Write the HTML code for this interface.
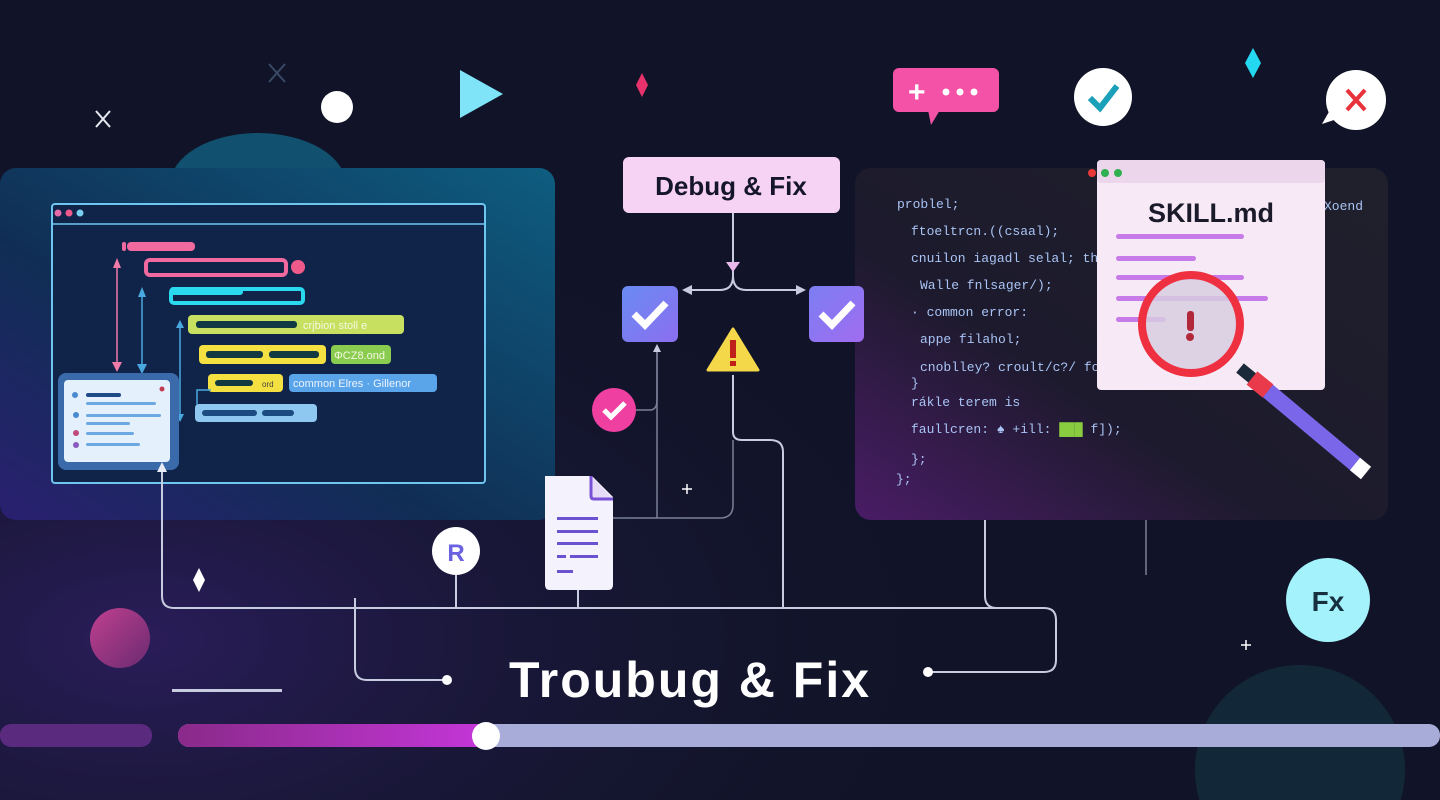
<!DOCTYPE html>
<html><head><meta charset="utf-8"><style>
html,body{margin:0;padding:0;background:#111428;width:1440px;height:800px;overflow:hidden}
svg{display:block}
text{font-family:"Liberation Sans",sans-serif}
.code text{font-family:"Liberation Mono",monospace;font-size:13px;fill:#a9c4f5}
</style></head><body>
<svg width="1440" height="800" viewBox="0 0 1440 800" xmlns="http://www.w3.org/2000/svg">
<defs>
<radialGradient id="bgL" cx="0.1" cy="0.8" r="0.6"><stop offset="0" stop-color="#2a1d5a"/><stop offset="1" stop-color="#111428" stop-opacity="0"/></radialGradient>
<linearGradient id="lp" x1="1" y1="0" x2="0" y2="1"><stop offset="0" stop-color="#0e5d80"/><stop offset="0.6" stop-color="#102e55"/><stop offset="1" stop-color="#2a2070"/></linearGradient>
<linearGradient id="rp" x1="1" y1="0" x2="0" y2="1"><stop offset="0" stop-color="#20202c"/><stop offset="0.6" stop-color="#1c1a2c"/><stop offset="1" stop-color="#4a1c66"/></linearGradient>
<linearGradient id="cb1" x1="0" y1="0" x2="1" y2="1"><stop offset="0" stop-color="#6a8bf2"/><stop offset="1" stop-color="#8b6ef0"/></linearGradient>
<linearGradient id="cb2" x1="0" y1="0" x2="1" y2="1"><stop offset="0" stop-color="#7c7ef2"/><stop offset="1" stop-color="#a06cf0"/></linearGradient>
<linearGradient id="prog" x1="0" x2="1"><stop offset="0" stop-color="#8a2a8a"/><stop offset="1" stop-color="#c436d8"/></linearGradient>
<linearGradient id="mag" x1="0" y1="0" x2="1" y2="1"><stop offset="0" stop-color="#c04090"/><stop offset="1" stop-color="#6a2a70"/></linearGradient>
</defs>
<rect width="1440" height="800" fill="#111428"/>
<rect width="1440" height="800" fill="url(#bgL)"/>
<circle cx="1300" cy="770" r="105" fill="#13303e" opacity="0.7"/>

<g stroke="#e8e8f0" stroke-width="2"><line x1="96" y1="111" x2="110" y2="127"/><line x1="110" y1="111" x2="96" y2="127"/></g>
<g stroke="#3a4a66" stroke-width="2"><line x1="269" y1="64" x2="285" y2="82"/><line x1="285" y1="64" x2="269" y2="82"/></g>
<circle cx="337" cy="107" r="16" fill="#fff"/>
<polygon points="460,70 460,118 503,94" fill="#7fe4f8"/>
<polygon points="642,73 648,85 642,97 636,85" fill="#e8326c"/>
<rect x="893" y="68" width="106" height="44" rx="6" fill="#f452a6"/>
<polygon points="928,110 940,110 931,125" fill="#f452a6"/>
<text x="908" y="102" fill="#fff" font-size="30" font-weight="bold">+</text>
<circle cx="946" cy="92" r="3.5" fill="#fff"/><circle cx="960" cy="92" r="3.5" fill="#fff"/><circle cx="974" cy="92" r="3.5" fill="#fff"/>
<circle cx="1103" cy="97" r="29" fill="#fff"/>
<polyline points="1090,98 1100,108 1117,86" fill="none" stroke="#1aa0b8" stroke-width="6"/>
<polygon points="1253,48 1261,63 1253,78 1245,63" fill="#23d8f0"/>
<circle cx="1356" cy="100" r="30" fill="#fff"/>
<polygon points="1330,110 1322,124 1340,118" fill="#fff"/>
<g stroke="#e8323c" stroke-width="4"><line x1="1347" y1="90" x2="1365" y2="110"/><line x1="1365" y1="90" x2="1347" y2="110"/></g>

<ellipse cx="258" cy="185" rx="88" ry="52" fill="#11506e"/>
<rect x="0" y="168" width="555" height="352" rx="16" fill="url(#lp)"/>
<rect x="52" y="204" width="433" height="279" rx="3" fill="#10244a" stroke="#6ec6ee" stroke-width="2"/>
<line x1="52" y1="224" x2="485" y2="224" stroke="#6ec6ee" stroke-width="1.5"/>
<circle cx="58" cy="213" r="3.5" fill="#e46aa8"/><circle cx="69" cy="213" r="3.5" fill="#f05a8a"/><circle cx="80" cy="213" r="3.5" fill="#7ad0f0"/>
<rect x="122" y="242" width="4" height="9" rx="2" fill="#f06aa0"/>
<rect x="127" y="242" width="68" height="9" rx="4" fill="#f06aa0"/>
<rect x="146" y="260" width="140" height="15" rx="4" fill="#10244a" stroke="#f06aa0" stroke-width="4"/>
<circle cx="298" cy="267" r="7" fill="#f05a8a"/>
<rect x="170" y="287" width="73" height="8" rx="3" fill="#2ad8f0"/>
<rect x="171" y="289" width="132" height="14" rx="3" fill="none" stroke="#2ad8f0" stroke-width="4"/>
<rect x="188" y="315" width="216" height="19" rx="4" fill="#c8e060"/>
<rect x="196" y="321" width="101" height="7" rx="3" fill="#0f3a44"/>
<text x="303" y="329" font-size="11" fill="#f4f8e0">crjbion stoll e</text>
<rect x="199" y="345" width="127" height="19" rx="4" fill="#f4e040"/>
<rect x="206" y="351" width="57" height="7" rx="3" fill="#123a40"/><rect x="269" y="351" width="50" height="7" rx="3" fill="#123a40"/>
<rect x="331" y="345" width="60" height="19" rx="4" fill="#8acc50"/>
<text x="334" y="359" font-size="11" fill="#f4f8e0">ΦCZ8.ond</text>
<rect x="208" y="374" width="75" height="18" rx="4" fill="#f4e040"/>
<rect x="215" y="380" width="38" height="6" rx="3" fill="#123a40"/>
<text x="262" y="387" font-size="8" fill="#444">ord</text>
<rect x="289" y="374" width="148" height="18" rx="4" fill="#5aa4ea"/>
<text x="293" y="387" font-size="11" fill="#eaf4ff">common Elres · Gillenor</text>
<rect x="195" y="404" width="122" height="18" rx="4" fill="#8ec8f0"/>
<rect x="202" y="410" width="55" height="6" rx="3" fill="#1a4a80"/><rect x="262" y="410" width="32" height="6" rx="3" fill="#1a4a80"/>
<g stroke-width="1.5" fill="none">
<line x1="117" y1="262" x2="117" y2="366" stroke="#f07aa8"/>
<line x1="142" y1="292" x2="142" y2="368" stroke="#4aa8e0"/>
<polyline points="180,325 180,420" stroke="#4aa8e0"/>
<polyline points="211,390 197,390 197,405" stroke="#4aa8e0"/>
</g>
<polygon points="113,268 117,258 121,268" fill="#f07aa8"/><polygon points="112,362 117,372 122,362" fill="#f07aa8"/>
<polygon points="138,297 142,287 146,297" fill="#4aa8e0"/><polygon points="137,364 142,374 147,364" fill="#4aa8e0"/>
<polygon points="176,328 180,320 184,328" fill="#4aa8e0"/><polygon points="176,414 180,422 184,414" fill="#4aa8e0"/>
<rect x="58" y="373" width="121" height="97" rx="8" fill="#3a6aaa"/>
<rect x="64" y="380" width="106" height="82" rx="4" fill="#e4f0fb"/>
<rect x="86" y="393" width="35" height="4" rx="2" fill="#1e4a88"/>
<rect x="86" y="402" width="70" height="3" rx="1.5" fill="#6ea8e0"/>
<rect x="86" y="414" width="75" height="3" rx="1.5" fill="#6ea8e0"/>
<rect x="86" y="422" width="44" height="3" rx="1.5" fill="#6ea8e0"/>
<rect x="86" y="432" width="48" height="3" rx="1.5" fill="#6ea8e0"/>
<rect x="86" y="443" width="54" height="3" rx="1.5" fill="#6ea8e0"/>
<circle cx="75" cy="395" r="3" fill="#4a8ad0"/><circle cx="76" cy="415" r="3" fill="#4a8ad0"/><circle cx="76" cy="433" r="3" fill="#c04a7a"/><circle cx="76" cy="445" r="3" fill="#8a5ac0"/><circle cx="162" cy="389" r="2.5" fill="#c03a50"/>

<rect x="855" y="168" width="533" height="352" rx="16" fill="url(#rp)"/>
<g class="code">
<text x="897" y="208">problel;</text>
<text x="911" y="235">ftoeltrcn.((csaal);</text>
<text x="911" y="262">cnuilon iagadl selal; the</text>
<text x="920" y="289">Walle fnlsager/);</text>
<text x="911" y="316">· common error:</text>
<text x="920" y="343">appe filahol;</text>
<text x="920" y="371">cnoblley? croult/c?/ fon</text>
<text x="911" y="387">}</text>
<text x="911" y="406">rákle terem is</text>
<text x="911" y="433">faullcren: ♠ +ill: <tspan fill="#8acc40">███</tspan> f]);</text>
<text x="911" y="463">};</text>
<text x="896" y="483">};</text>
<text x="1324" y="210">Xoend</text>
</g>
<rect x="1097" y="160" width="228" height="230" rx="4" fill="#f7e9f6"/>
<rect x="1097" y="160" width="228" height="23" rx="4" fill="#ecd6ec"/>
<circle cx="1092" cy="173" r="4" fill="#e83a3a"/><circle cx="1105" cy="173" r="4" fill="#30b050"/><circle cx="1118" cy="173" r="4" fill="#30b050"/>
<text x="1211" y="222" text-anchor="middle" font-size="27" font-weight="bold" fill="#1a1a2a">SKILL.md</text>
<g fill="#c77be8"><rect x="1116" y="234" width="128" height="5" rx="2.5"/><rect x="1116" y="256" width="80" height="5" rx="2.5"/><rect x="1116" y="275" width="128" height="5" rx="2.5"/><rect x="1116" y="296" width="152" height="5" rx="2.5"/><rect x="1116" y="317" width="50" height="5" rx="2.5"/></g>
<line x1="1240" y1="368" x2="1262" y2="386" stroke="#1a2a3a" stroke-width="12"/>
<line x1="1262" y1="386" x2="1360" y2="468" stroke="#7a66e8" stroke-width="16"/>
<line x1="1252" y1="378" x2="1268" y2="391" stroke="#e83a4a" stroke-width="17"/>
<line x1="1355" y1="464" x2="1366" y2="473" stroke="#fff" stroke-width="16"/>
<circle cx="1191" cy="324" r="49" fill="#d8cce0" fill-opacity="0.85" stroke="#ee3040" stroke-width="8"/>
<rect x="1187" y="311" width="7" height="20" rx="3" fill="#b0283a"/><circle cx="1190" cy="337" r="4" fill="#b0283a"/>

<g fill="none" stroke="#c8cce0" stroke-width="2">
<path d="M733 213 V276 Q733 290 720 290 H690"/>
<path d="M733 276 Q733 290 746 290 H798"/>
<path d="M733 375 V432 Q733 440 742 440 H770 Q783 440 783 452 V608"/>
<path d="M162 470 V596 Q162 608 174 608 H1044 Q1056 608 1056 620 V660 Q1056 672 1044 672 H930"/>
<path d="M355 598 V668 Q355 680 367 680 H445"/>
<line x1="456" y1="575" x2="456" y2="608"/>
<line x1="578" y1="590" x2="578" y2="608"/>
<path d="M985 520 V596 Q985 608 997 608"/>
</g>
<g fill="none" stroke="#7a8098" stroke-width="1.5">
<path d="M634 410 H650 Q657 410 657 400 V348"/>
<path d="M657 348 V518"/>
<path d="M613 518 H720 Q733 518 733 505 V440"/>
<line x1="1146" y1="520" x2="1146" y2="575"/>
</g>
<polygon points="726,262 733,272 740,262" fill="#e8b8ea"/>
<polygon points="692,285 682,290 692,295" fill="#c8cce0"/>
<polygon points="796,285 806,290 796,295" fill="#c8cce0"/>
<polygon points="653,352 657,344 661,352" fill="#c8cce0"/>
<circle cx="447" cy="680" r="5" fill="#fff"/><circle cx="928" cy="672" r="5" fill="#fff"/>
<polygon points="162,462 157,472 167,472" fill="#e8ecf4"/>

<rect x="623" y="157" width="217" height="56" rx="6" fill="#f6d2f4"/>
<text x="731" y="195" text-anchor="middle" font-size="26" font-weight="bold" fill="#16162a">Debug &amp; Fix</text>
<rect x="622" y="286" width="56" height="56" rx="6" fill="url(#cb1)"/>
<rect x="809" y="286" width="55" height="56" rx="6" fill="url(#cb2)"/>
<polyline points="634,314 645,325 666,303" fill="none" stroke="#fff" stroke-width="7"/>
<polyline points="821,314 832,325 853,303" fill="none" stroke="#fff" stroke-width="7"/>
<polygon points="733,329 758,370 708,370" fill="#f4d84a" stroke="#f4d84a" stroke-width="3" stroke-linejoin="round"/>
<rect x="730" y="340" width="6" height="18" fill="#c0201a"/><rect x="730" y="361" width="6" height="5" fill="#c0201a"/>
<circle cx="614" cy="410" r="22" fill="#ef3fa0"/>
<polyline points="604,410 611,417 625,403" fill="none" stroke="#fff" stroke-width="5"/>

<path d="M545 476 H592 L613 497 V585 Q613 590 608 590 H550 Q545 590 545 585 Z" fill="#f4f2fc"/>
<path d="M591 476 V496 Q591 499 594 499 H613" fill="#e6dcf8" stroke="#7a52d8" stroke-width="3"/>
<g fill="#6a52d0"><rect x="557" y="517" width="41" height="3"/><rect x="557" y="530" width="41" height="3"/><rect x="557" y="542" width="41" height="3"/><rect x="557" y="555" width="9" height="3"/><rect x="570" y="555" width="28" height="3"/><rect x="557" y="570" width="16" height="3"/></g>
<circle cx="456" cy="551" r="24" fill="#fff"/>
<text x="456" y="561" text-anchor="middle" font-size="24" font-weight="bold" fill="#6a62e0">R</text>

<polygon points="199,568 205,580 199,592 193,580" fill="#fff"/>
<g stroke="#fff" stroke-width="1.5"><line x1="687" y1="484" x2="687" y2="494"/><line x1="682" y1="489" x2="692" y2="489"/><line x1="1246" y1="640" x2="1246" y2="650"/><line x1="1241" y1="645" x2="1251" y2="645"/></g>
<circle cx="120" cy="638" r="30" fill="url(#mag)"/>
<rect x="172" y="689" width="110" height="3" fill="#c8cce0"/>
<circle cx="1328" cy="600" r="42" fill="#a4f2fc"/>
<text x="1328" y="611" text-anchor="middle" font-size="28" font-weight="bold" fill="#163040">Fx</text>
<text x="690" y="697" text-anchor="middle" font-size="50" font-weight="bold" letter-spacing="2" fill="#fff">Troubug  &amp; Fix</text>

<rect x="0" y="724" width="152" height="23" rx="11" fill="#5a2a7e"/>
<rect x="178" y="724" width="1262" height="23" rx="11" fill="#a8acd8"/>
<rect x="178" y="724" width="310" height="23" rx="11" fill="url(#prog)"/>
<circle cx="486" cy="736" r="14" fill="#fff"/>
</svg>
</body></html>
